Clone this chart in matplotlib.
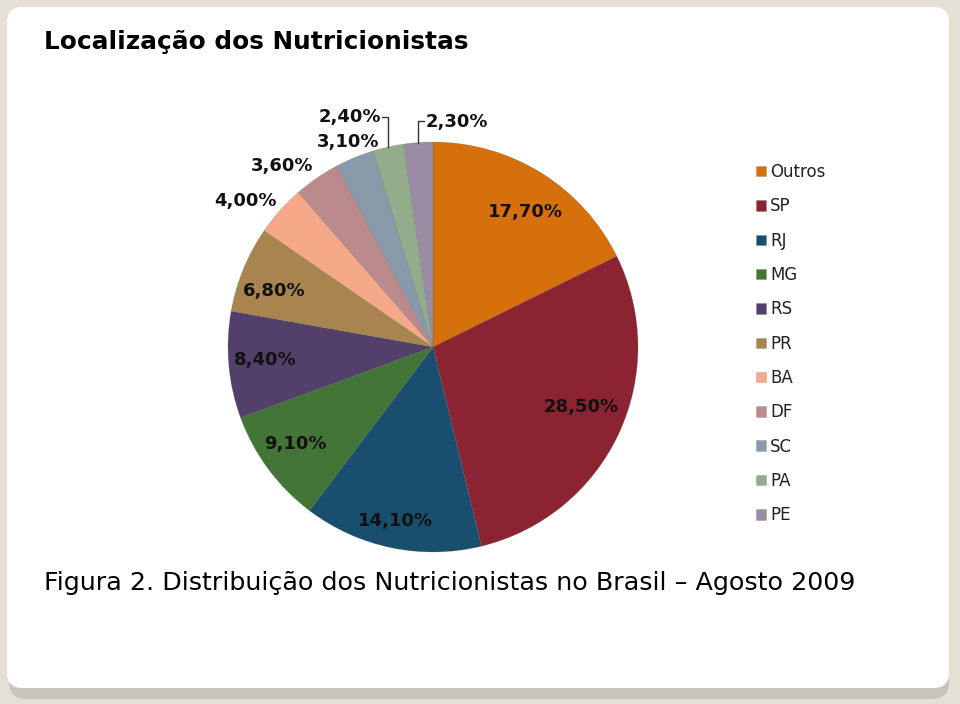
import numpy as np
import matplotlib
matplotlib.use("Agg")
import matplotlib.pyplot as plt
from matplotlib.patches import FancyBboxPatch

# dados do grafico
estados = ["Outros", "SP", "RJ", "MG", "RS", "PR", "BA", "DF", "SC", "PA", "PE"]
percentuais = [17.70, 28.50, 14.10, 9.10, 8.40, 6.80, 4.00, 3.60, 3.10, 2.40, 2.30]
rotulos = ["17,70%", "28,50%", "14,10%", "9,10%", "8,40%", "6,80%",
           "4,00%", "3,60%", "3,10%", "2,40%", "2,30%"]
cores = ["#d5700b", "#8c2332", "#1a4e6e", "#437536", "#523f6a", "#a8844f",
         "#f5a988", "#bb8a8c", "#8899aa", "#93ad8c", "#9b8ca5"]

# posicao dos rotulos: fator de raio e ajuste de angulo (graus)
fator_raio = [0.80, 0.78, 0.87, 0.82, 0.82, 0.82, 1.16, 1.15, 1.08, 1.0, 1.0]
ajuste_ang = [-2.5, 3.0, -0.6, -1.5, -0.6, 2.8, 3.8, 5.4, 0.0, 0.0, 0.0]

W, H = 960, 704
fig = plt.figure(figsize=(W / 100, H / 100), dpi=100)
fig.patch.set_facecolor("#e5e0d7")

# cartao branco com sombra
sombra = FancyBboxPatch((9 / W, 5 / H), 940 / W, 684 / H,
                        boxstyle="round,pad=0,rounding_size=0.018",
                        transform=fig.transFigure, facecolor="#c9c4bb",
                        edgecolor="none", mutation_aspect=W / H, zorder=-3)
fig.patches.append(sombra)
cartao = FancyBboxPatch((7 / W, 16 / H), 942 / W, 681 / H,
                        boxstyle="round,pad=0,rounding_size=0.016",
                        transform=fig.transFigure, facecolor="white",
                        edgecolor="none", mutation_aspect=W / H, zorder=-2)
fig.patches.append(cartao)

fig.text(44 / W, 1 - 42 / H, "Localização dos Nutricionistas",
         fontsize=17.8, fontweight="bold", family="DejaVu Sans",
         ha="left", va="center")
fig.text(44 / W, 1 - 583 / H,
         "Figura 2. Distribuição dos Nutricionistas no Brasil \u2013 Agosto 2009",
         fontsize=18.3, family="DejaVu Sans", ha="left", va="center")

# eixo da pizza: centro (433, 347), raio 205 px
cx, cy, R = 433, 347, 205
ax = fig.add_axes([(cx - R) / W, (H - cy - R) / H, 2 * R / W, 2 * R / H])
ax.set_axis_off()

wedges, _ = ax.pie(percentuais, colors=cores, startangle=90, counterclock=False,
                   radius=1.0, wedgeprops=dict(linewidth=0.4, edgecolor="#55555555"))
ax.set_xlim(-1, 1)
ax.set_ylim(-1, 1)
ax.set_aspect("equal")

fonte_rot = dict(fontsize=13, fontweight="bold", family="DejaVu Sans", color="#111111")
for i, w in enumerate(wedges):
    meio = np.deg2rad((w.theta1 + w.theta2) / 2 + ajuste_ang[i])
    if estados[i] in ("PA", "PE"):
        continue
    x = fator_raio[i] * np.cos(meio)
    y = fator_raio[i] * np.sin(meio)
    ax.text(x, y, rotulos[i], ha="center", va="center", clip_on=False, **fonte_rot)

# rotulos com linha de chamada (PA e PE)
for nome in ("PA", "PE"):
    i = estados.index(nome)
    w = wedges[i]
    meio = np.deg2rad((w.theta1 + w.theta2) / 2)
    x0, y0 = np.cos(meio), np.sin(meio)
    ylin = 1.12 if nome == "PA" else 1.10
    sinal = -1 if nome == "PA" else 1
    ax.plot([x0, x0, x0 + sinal * 0.03], [y0, ylin, ylin],
            color="#333333", lw=1.0, clip_on=False)
    ax.text(x0 + sinal * 0.035, ylin, rotulos[i], ha="right" if sinal < 0 else "left",
            va="center", clip_on=False, **fonte_rot)

# legenda
leg = fig.legend(wedges, estados, loc="upper left",
                 bbox_to_anchor=(741 / W, 1 - 148 / H), frameon=False,
                 prop=dict(family="DejaVu Sans", size=12), handlelength=0.6,
                 handleheight=0.6, handletextpad=0.25, labelspacing=0.98)
for t in leg.get_texts():
    t.set_color("#222222")

fig.savefig("out.png", dpi=100, facecolor=fig.get_facecolor())
